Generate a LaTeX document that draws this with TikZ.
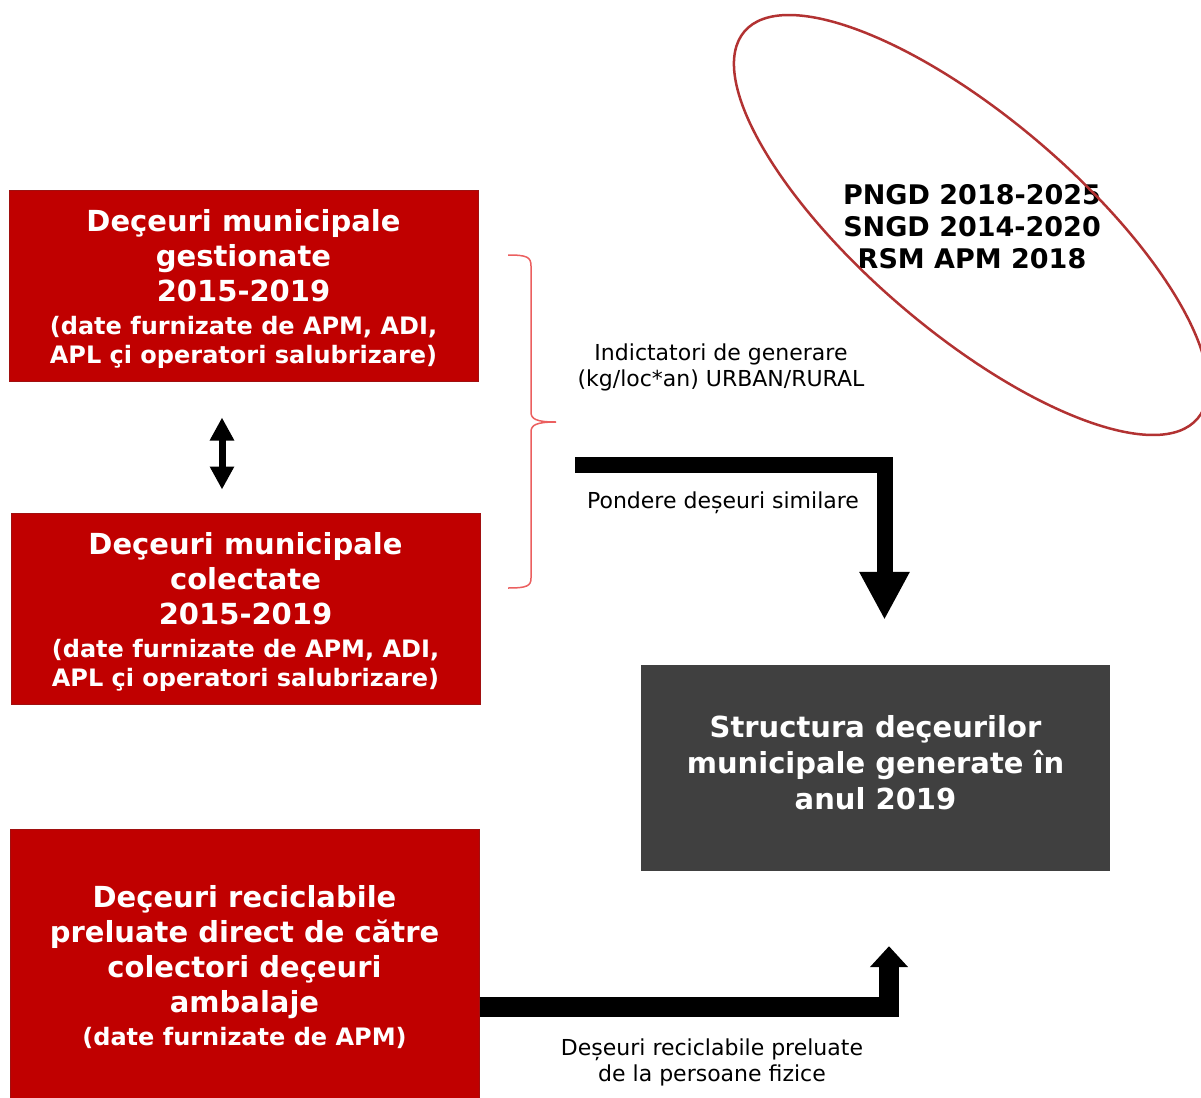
\documentclass[tikz,border=0pt]{standalone}
\usepackage{fontspec}
\setmainfont{DejaVu Sans}
\usetikzlibrary{arrows.meta}

\definecolor{boxred}{RGB}{192,0,0}
\definecolor{boxedge}{RGB}{160,16,16}
\definecolor{boxgrey}{RGB}{64,64,64}
\definecolor{ovalred}{RGB}{178,50,50}
\definecolor{bracered}{RGB}{235,95,95}

\newcommand{\boxtitlefont}{\fontsize{29}{35}\selectfont\bfseries}
\newcommand{\boxsubfont}{\fontsize{24}{29}\selectfont\bfseries}

\tikzset{
  redbox/.style={fill=boxred, draw=boxedge, line width=1pt, text=white, align=center,
    inner sep=0pt, minimum width=469pt, font=\boxtitlefont},
  greybox/.style={fill=boxgrey, text=white, align=center, inner sep=0pt,
    minimum width=469pt, minimum height=206pt, font=\fontsize{29}{36}\selectfont\bfseries},
  note/.style={align=center, inner sep=0pt, font=\fontsize{22}{26}\selectfont},
  fatarrow/.style={line join=miter, line cap=butt},
}

\begin{document}
\begin{tikzpicture}[x=1pt,y=1pt]
\def\xl{243.5}
\def\xr{875.5}

\path[use as bounding box, clip] (0,0) rectangle (1201,-1097);

% red boxes on the left
\node[redbox, minimum height=191pt] (gest) at (\xl,-285.5)
  {\rule{0pt}{28pt}Deçeuri municipale\\gestionate\\2015-2019\\[-2pt]
   \boxsubfont (date furnizate de APM, ADI,\\[-6pt]
   \boxsubfont APL çi operatori salubrizare)};
\node[redbox, minimum height=191pt] (colect) at (\xl+2,-608.5)
  {\rule{0pt}{28pt}Deçeuri municipale\\colectate\\2015-2019\\[-2pt]
   \boxsubfont (date furnizate de APM, ADI,\\[-6pt]
   \boxsubfont APL çi operatori salubrizare)};
\node[redbox, minimum height=276pt] (recicl) at (\xl+1,-967)
  {Deçeuri reciclabile\\preluate direct de către\\colectori deçeuri\\ambalaje\\[-2pt]
   \boxsubfont (date furnizate de APM)};

% result box
\node[greybox] (struct) at (\xr,-768)
  {Structura deçeurilor\\municipale generate în\\anul 2019\rule[-12pt]{0pt}{12pt}};

% sources in the oval
\node[align=center, inner sep=0pt, font=\fontsize{27}{32}\selectfont\bfseries] (surse) at (972,-227)
  {PNGD 2018-2025\\SNGD 2014-2020\\RSM APM 2018};
\draw[ovalred, line width=2.5pt, rotate around={-40.5:(971,-225)}] (971,-225) ellipse (298 and 107);

% brace
\draw[bracered, line width=1.5pt] (508,-255) .. controls (527,-255) and (531,-257) .. (531,-266)
  -- (531,-412) .. controls (531,-419) and (536,-422) .. (556,-422)
  .. controls (536,-422) and (531,-425) .. (531,-432)
  -- (531,-578) .. controls (531,-586) and (527,-588) .. (508,-588);

\node[note] (indic) at (721,-367) {Indictatori de generare\\(kg/loc*an) URBAN/RURAL};
\node[note] (pond) at (723,-503) {Pondere deșeuri similare};
\node[note] (pers) at (712,-1062) {Deșeuri reciclabile preluate\\de la persoane fizice};

% arrows
\draw[line width=7pt, {Triangle[width=23pt,length=23pt]}-{Triangle[width=23pt,length=23pt]}]
  ([xshift=-21.5pt,yshift=-36pt]gest.south) -- ([xshift=-23.5pt,yshift=23pt]colect.north);

\coordinate (ind) at (575,-464.5);
\draw[fatarrow, line width=16pt, -{Triangle[width=47pt,length=48pt]}]
  (ind) -| ([xshift=9pt,yshift=45pt]struct.north);

\draw[fatarrow, line width=20pt, -{Triangle[width=37pt,length=21pt]}]
  ([yshift=-40pt]recicl.east) -| ([xshift=13.5pt,yshift=-75pt]struct.south);

\end{tikzpicture}
\end{document}
